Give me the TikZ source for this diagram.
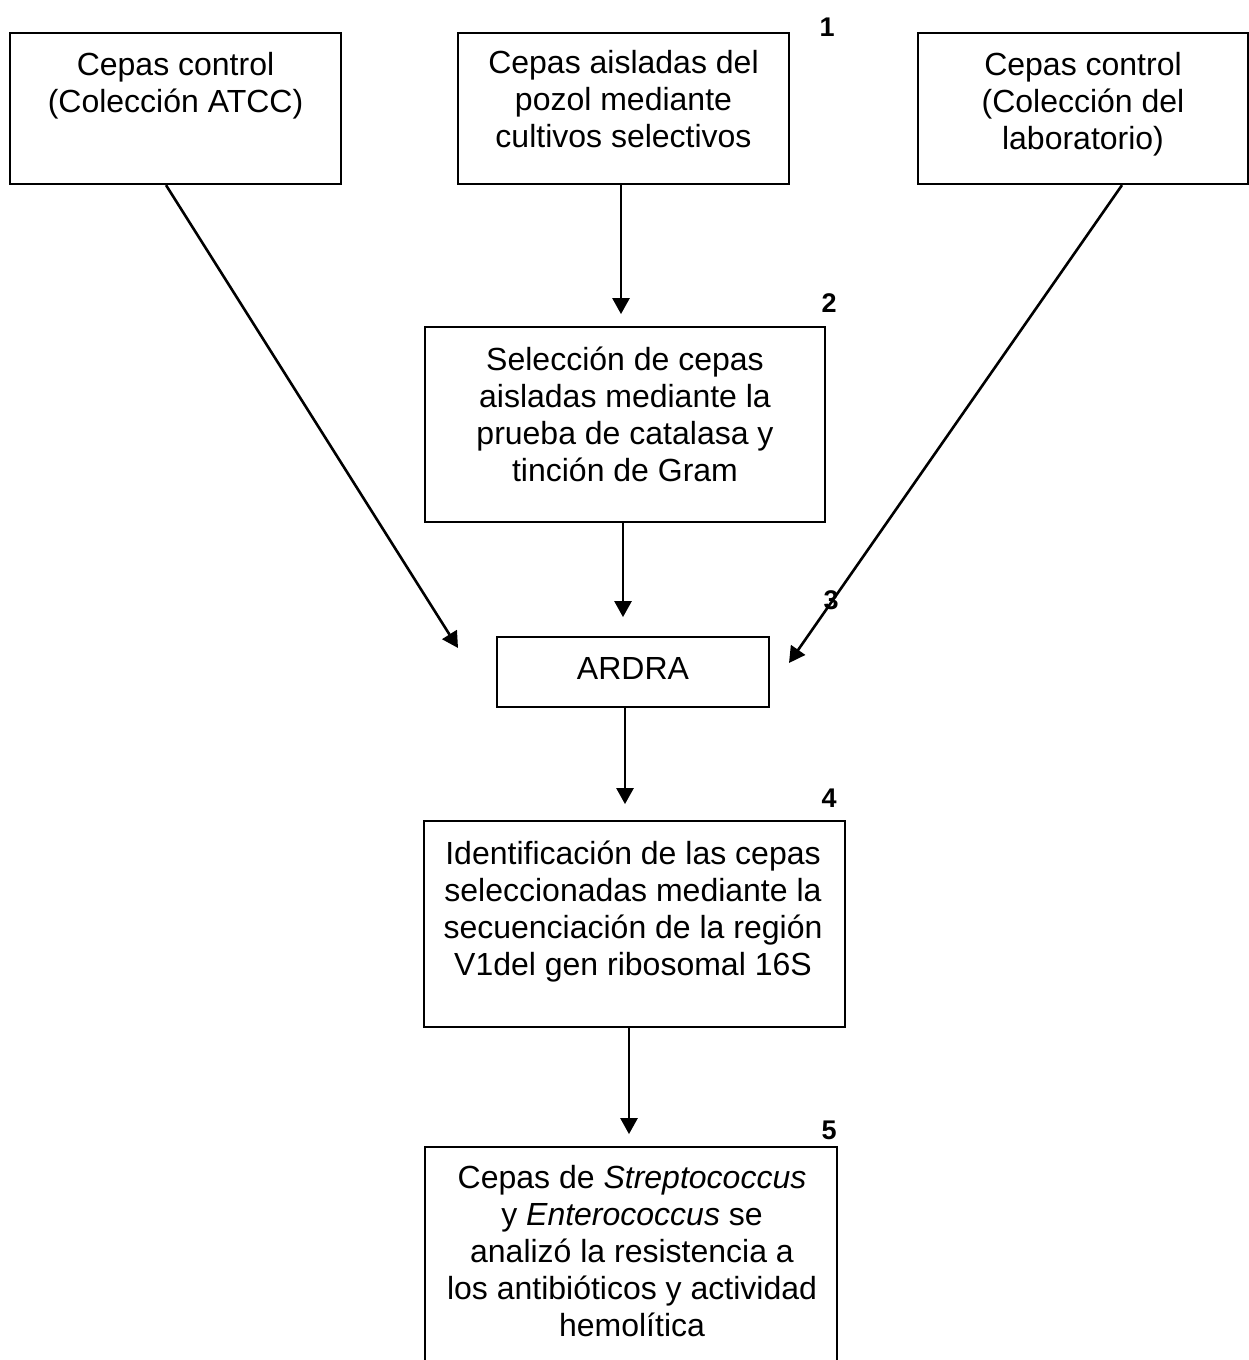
\documentclass[tikz,border=0pt]{standalone}
\usepackage{fontspec}
\setmainfont{Liberation Sans}
\usetikzlibrary{arrows.meta}
\begin{document}
\begin{tikzpicture}[x=1pt,y=-1pt,
  box/.style={draw, line width=2.2pt, inner sep=0pt},
  txt/.style={anchor=north, inner sep=0pt, align=center, font=\fontsize{32}{37}\selectfont},
  num/.style={anchor=base, inner sep=0pt, font=\fontsize{27}{30}\selectfont\bfseries},
  arr/.style={line width=2.6pt, -{Triangle[width=17pt,length=16pt]}}]
\clip (0,0) rectangle (1249,1360);
\useasboundingbox (0,0) rectangle (1249,1360);
\fill[white] (0,0) rectangle (1249,1360);

% boxes
\node[box, minimum width=331pt, minimum height=151pt] (A) at (175.5,108.5) {};
\node[box, minimum width=331pt, minimum height=151pt] (B) at (623.5,108.5) {};
\node[box, minimum width=330pt, minimum height=151pt] (C) at (1083,108.5) {};
\node[box, minimum width=400pt, minimum height=195pt] (S) at (625,424.5) {};
\node[box, minimum width=272pt, minimum height=70pt] (R) at (633,672) {};
\node[box, minimum width=421pt, minimum height=206pt] (D) at (634.5,924) {};
\node[box, minimum width=412pt, minimum height=253pt] (E) at (631,1273.5) {};

% texts
\node[txt] (tA) at (175.5,49) {\strut Cepas control\\(Colección ATCC)};
\node[txt] (tB) at (623.5,47) {\strut Cepas aisladas del\\pozol mediante\\cultivos selectivos};
\node[txt] (tC) at (1083,49) {\strut Cepas control\\(Colección del\\laboratorio)};
\node[txt] (tS) at (625,344) {\strut Selección de cepas\\aisladas mediante la\\prueba de catalasa y\\tinción de Gram};
\node[anchor=base, inner sep=0pt, font=\fontsize{32}{37}\selectfont] (tR) at (633,679) {ARDRA};
\node[txt] (tD) at (633,838) {\strut Identificación de las cepas\\seleccionadas mediante la\\secuenciación de la región\\V1del gen ribosomal 16S};
\node[txt] (tE) at (632,1162) {\strut Cepas de \textit{Streptococcus}\\y \textit{Enterococcus} se\\analizó la resistencia a\\los antibióticos y actividad\\hemolítica};

% step numbers
\node[num] (n1) at (827,36) {1};
\node[num] (n2) at (829,312) {2};
\node[num] (n3) at (831,609) {3};
\node[num] (n4) at (829,807) {4};
\node[num] (n5) at (829,1139) {5};

% connector end points
\coordinate (pA) at (458,648);
\coordinate (pC) at (789,663);

% connectors
\draw[arr] ([xshift=-9.5pt]A.south) -- (pA);
\draw[arr] ([xshift=39pt]C.south) -- (pC);
\draw[arr] ([xshift=-2.5pt]B.south) -- ++(0,129);
\draw[arr] ([xshift=-2pt]S.south) -- ++(0,94);
\draw[arr] ([xshift=-8pt]R.south) -- ++(0,96);
\draw[arr] ([xshift=-5.5pt]D.south) -- ++(0,106);
\end{tikzpicture}
\end{document}
